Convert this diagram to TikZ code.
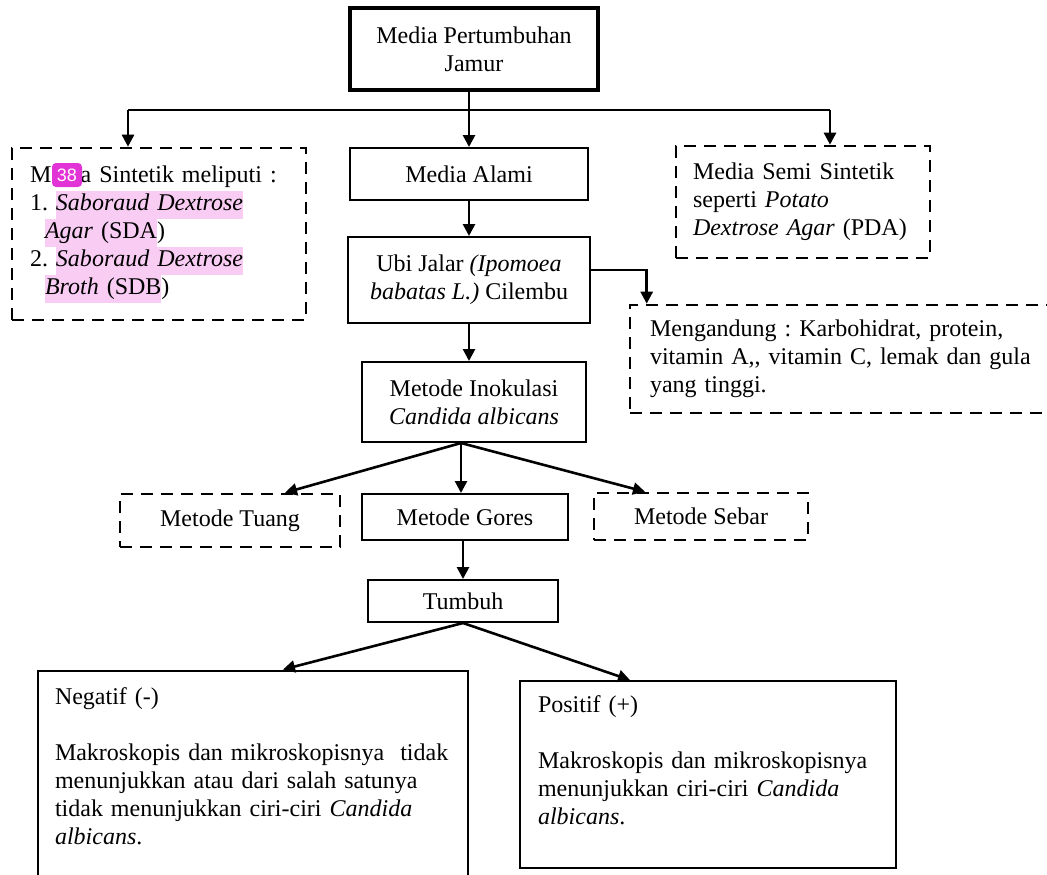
\documentclass[tikz,border=0pt]{standalone}
\usepackage{fontspec}
\setmainfont{Liberation Serif}
\setsansfont{Liberation Sans}
\usetikzlibrary{arrows.meta,positioning}
\definecolor{hlpink}{RGB}{249,204,244}
\definecolor{badgepink}{RGB}{226,52,214}
\newcommand{\hlt}[1]{{\setlength{\fboxsep}{0pt}\colorbox{hlpink}{\strut #1}}}
\frenchspacing

\begin{document}
\begin{tikzpicture}[x=0.5pt,y=-0.5pt,
    every node/.style={font=\fontsize{12}{14}\selectfont,inner sep=0pt},
    box/.style={draw,line width=1pt},
    dashbox/.style={draw,line width=1.3pt,dash pattern=on 6pt off 4pt},
    arrow/.style={line width=1.3pt,-{Triangle[length=6pt,width=6pt]}}]
    \clip (0,0) rectangle (1047,874);

    % top level
    \node[box,line width=2pt,minimum width=124pt,minimum height=41pt,align=center] (jamur) at (474,49) {Media Pertumbuhan\\Jamur};

    \node[dashbox,text width=129pt,inner xsep=9pt,minimum height=86pt,align=left] (sintetik) at (159,234)
        {Media Sintetik meliputi :\\
         1.\ \hlt{\textit{Saboraud Dextrose}}\\
         \hspace*{7.5pt}\hlt{\textit{Agar} (SDA}) \\
         2.\ \hlt{\textit{Saboraud Dextrose}}\\
         \hspace*{7.5pt}\hlt{\textit{Broth} (SDB})};
    \node[fill=badgepink,rounded corners=2pt,minimum width=15pt,minimum height=12pt,text=white,font=\sffamily\fontsize{9}{9}\selectfont] (badge) at (67,175) {38};

    \node[box,minimum width=119pt,minimum height=26pt] (alami) at (469,174) {Media Alami};
    \node[dashbox,text width=110pt,inner xsep=8.5pt,minimum height=56pt,align=left] (semi) at (803,202)
        {Media Semi Sintetik\\seperti \textit{Potato}\\\textit{Dextrose Agar} (PDA)};

    % ubi jalar
    \node[box,minimum width=121pt,minimum height=43pt,align=center] (ubi) at (469,280) {Ubi Jalar \textit{(Ipomoea}\\\textit{babatas L.)} Cilembu};
    \node[dashbox,text width=200pt,inner xsep=10pt,minimum height=54pt,align=left] (kandung) at (850,359)
        {Mengandung : Karbohidrat, protein,\\vitamin A,{}, vitamin C, lemak dan gula\\yang tinggi.};

    \node[box,minimum width=112pt,minimum height=40pt,align=center] (inokulasi) at (474,402) {Metode Inokulasi\\\textit{Candida albicans}};

    % metode
    \node[dashbox,minimum width=110pt,minimum height=26.5pt] (tuang) at (230,520.5) {Metode Tuang};
    \node[box,minimum width=103pt,minimum height=23pt] (gores) at (465,517) {Metode Gores};
    \node[dashbox,minimum width=107pt,minimum height=23.5pt] (sebar) at (701,516.5) {Metode Sebar};

    \node[box,minimum width=95pt,minimum height=21pt] (tumbuh) at (463,601) {Tumbuh};

    % hasil
    \node[box,text width=198pt,inner xsep=8.5pt,minimum height=109.5pt,align=left] (negatif) at (253,780)
        {Negatif (-)\\[14pt]
         Makroskopis dan mikroskopisnya \ tidak\\menunjukkan atau dari salah satunya\\tidak menunjukkan ciri-ciri \textit{Candida}\\\textit{albicans}.\\ \mbox{}};
    \node[box,text width=170pt,inner xsep=9pt,minimum height=93.5pt,align=left] (positif) at (708,774.5)
        {Positif (+)\\[14pt]
         Makroskopis dan mikroskopisnya\\menunjukkan ciri-ciri \textit{Candida}\\\textit{albicans}.\\ \mbox{}};

    % connectors
    \coordinate (barL) at (128,110);
    \coordinate (barR) at (830,110);
    \draw[line width=1.3pt] (barL) -- (barR);
    \draw[line width=1.3pt] (jamur.south -| alami.north) -- (barL -| alami.north);
    \draw[arrow] (barL -| alami.north) -- (alami.north);
    \draw[arrow] (barL) -- (sintetik.north -| barL);
    \draw[arrow] (barR) -- (semi.north -| barR);
    \draw[arrow] (alami) -- (ubi);
    \draw[arrow] ([yshift=5pt]ubi.east) -| ([xshift=9pt]kandung.north west);
    \draw[arrow] (ubi.south) -- (ubi.south |- inokulasi.north);

    \coordinate (fork) at (461,443);
    \draw[arrow] (fork) -- ([xshift=27.5pt]tuang.north);
    \draw[arrow] (fork) -- (fork |- gores.north);
    \draw[arrow] (fork) -- ([xshift=-28pt]sebar.north);
    \draw[arrow] (gores.south -| tumbuh.north) -- (tumbuh.north);
    \draw[arrow] (tumbuh.south) -- ([xshift=15pt]negatif.north);
    \draw[arrow] (tumbuh.south) -- ([xshift=-39pt]positif.north);
\end{tikzpicture}
\end{document}
